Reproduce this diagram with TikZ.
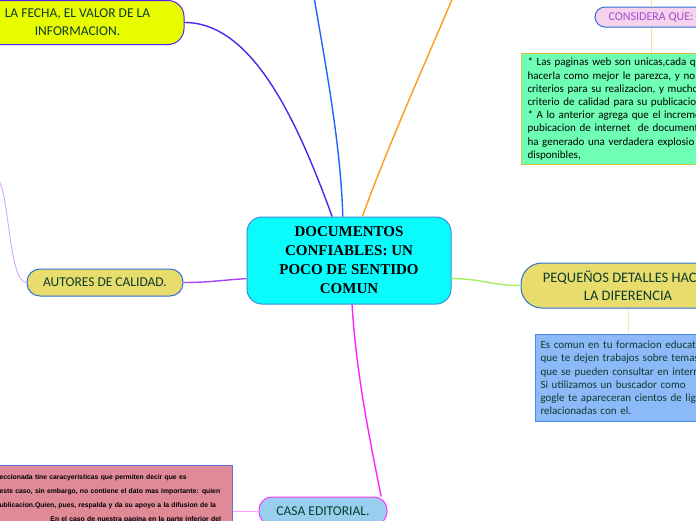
\documentclass[tikz,border=0pt]{standalone}
\usepackage{fontspec}
\setmainfont{Liberation Serif}
\newfontfamily\mapfont{Carlito}
\newfontfamily\notefont{Liberation Sans}

\definecolor{doccyan}{HTML}{0AFBFB}
\definecolor{docblue}{HTML}{3A8FD8}
\definecolor{topicgreen}{HTML}{0D3B2C}
\definecolor{lime}{HTML}{E8FC00}
\definecolor{sand}{HTML}{E8DC6C}
\definecolor{pillblue}{HTML}{2F6FD6}
\definecolor{conspink}{HTML}{F6D2EC}
\definecolor{conspurple}{HTML}{9B4FD6}
\definecolor{critgreen}{HTML}{6FFFB4}
\definecolor{critgold}{HTML}{D8C040}
\definecolor{webfill}{HTML}{8CB9F8}
\definecolor{webblue}{HTML}{4A8BE8}
\definecolor{casablue}{HTML}{98CFEE}
\definecolor{casamagenta}{HTML}{FF33FF}
\definecolor{inforose}{HTML}{E08A98}
\definecolor{infoblue}{HTML}{5A70E0}
\definecolor{fechaviolet}{HTML}{5122F0}
\definecolor{linkblue}{HTML}{2163FF}
\definecolor{linkorange}{HTML}{FF9A1A}
\definecolor{linkgreen}{HTML}{A6F060}
\definecolor{linkmagenta}{HTML}{FF22FF}
\definecolor{linkpurple}{HTML}{A844F4}
\definecolor{lilac}{HTML}{D9A4FF}
\definecolor{stemorange}{HTML}{FFD8AA}
\definecolor{stemgreen}{HTML}{E2F5B8}
\definecolor{linkpink}{HTML}{FF9CFF}

\begin{document}
\begin{tikzpicture}[x=1pt, y=-1pt,
    topic/.style={draw, line width=1pt, rounded corners=13pt, align=center,
        inner sep=0pt, text=topicgreen, font=\mapfont\fontsize{13.5}{18}\selectfont},
    textbox/.style={draw, line width=1pt, align=left, inner xsep=5pt, inner ysep=0pt,
        anchor=north west, font=\mapfont\fontsize{11}{13.2}\selectfont},
    branch/.style={line width=1.4pt},
    twig/.style={line width=0.9pt}
  ]
    \useasboundingbox (0,0) rectangle (696,520);
    \clip (0,0) rectangle (696,520);

    % Free ends of the links that leave the page
    \coordinate (topblue) at (314,-3);
    \coordinate (toporange) at (453,-3);
    \coordinate (topcons) at (651,-3);
    \coordinate (leftend) at (-5,176);

    % Central topic
    \node[topic, draw=docblue, fill=doccyan, rounded corners=15pt, minimum width=204,
        minimum height=87, text=black, font=\bfseries\fontsize{15}{19}\selectfont]
        (doc) at (349,260.5) {DOCUMENTOS\\CONFIABLES: UN\\POCO DE SENTIDO\\COMUN};

    % Topics
    \node[topic, draw=fechaviolet, fill=lime, rounded corners=16pt, minimum width=213,
        minimum height=44] (fecha) at (77.5,22.5) {LA FECHA, EL VALOR DE LA\\INFORMACION.};
    \node[topic, draw=pillblue, fill=sand, minimum width=156, minimum height=27]
        (autores) at (105,282.5) {AUTORES DE CALIDAD.};
    \node[topic, draw=pillblue, fill=sand, rounded corners=21pt, minimum width=214,
        minimum height=45, font=\mapfont\fontsize{14.5}{18}\selectfont]
        (detalles) at (628,285.5) {PEQUEÑOS DETALLES HAC\phantom{EN}\\LA DIFERENCIA};
    \node[topic, draw=pillblue, fill=conspink, text=conspurple, rounded corners=10pt,
        minimum width=112, minimum height=20, font=\mapfont\fontsize{12}{14}\selectfont]
        (considera) at (651,17) {CONSIDERA QUE:};
    \node[topic, draw=casamagenta, fill=casablue, minimum width=128, minimum height=28]
        (casa) at (323,511) {CASA EDITORIAL.};

    % Text boxes
    \node[textbox, draw=critgold, fill=critgreen, text width=200, minimum height=111,
        inner xsep=6pt] (criterios) at (521,53) {%
        * Las paginas web son unicas,cada qu\\
        hacerla como mejor le parezca, y no e\\
        criterios para su realizacion, y mucho\\
        criterio de calidad para su publicacion\\
        {}* A lo anterior agrega que el increme\\
        pubicacion de internet\ \ de document\\
        ha generado una verdadera explosio\\
        disponibles,};
    \node[textbox, draw=webblue, fill=webfill, text=topicgreen, text width=200,
        minimum height=87] (buscador) at (535,334) {%
        Es comun en tu formacion educat\\
        que te dejen trabajos sobre temas\\
        que se pueden consultar en intern\\
        Si utilizamos un buscador como\\
        gogle te apareceran cientos de lig\\
        relacionadas con el.};
    \node[textbox, anchor=north east, draw=infoblue, fill=inforose, text width=230,
        inner xsep=3pt, inner ysep=9pt, font=\notefont\bfseries\fontsize{6.8}{14}\selectfont]
        (editorial) at (233,465) {%
        eccionada tine caracyeristicas que permiten decir que es\\
        este caso, sin embargo, no contiene el dato mas importante: quien\\
        ublicacion.Quien, pues, respalda y da su apoyo a la difusion de la\\
        \hspace*{51pt}En el caso de nuestra pagina en la parte inferior del};

    % Branches from the centre
    \draw[branch, fechaviolet] (fecha.east) .. controls +(66,0) and +(-37,-102) .. (doc.111);
    \draw[branch, linkblue] (topblue) .. controls +(12,70) and +(-2,-70) .. (doc.98);
    \draw[branch, linkorange] (toporange) .. controls +(-25,60) and +(25,-70) .. (doc.73);
    \draw[branch, linkgreen] (doc.350) .. controls +(30,0) and +(-30,0) .. (detalles.west);
    \draw[branch, linkpurple] (doc.190) .. controls +(-30,2) and +(25,0) .. (autores.east);
    \draw[branch, linkmagenta] (doc.274) .. controls +(4,70) and +(-10,-50) .. (casa.14);

    % Smaller links
    \draw[twig, lilac] (autores.west) .. controls +(-19,0) and +(15,6) .. (leftend);
    \draw[twig, stemorange] (topcons) -- (considera.north);
    \draw[twig, linkpink] (casa.west) -- (casa.west -| editorial.east);
    \foreach \up/\down/\col in {considera/criterios/stemorange, detalles/buscador/stemgreen} {
        \draw[twig, \col] (\up.south) -- (\up.south |- \down.north);
    }
\end{tikzpicture}
\end{document}
